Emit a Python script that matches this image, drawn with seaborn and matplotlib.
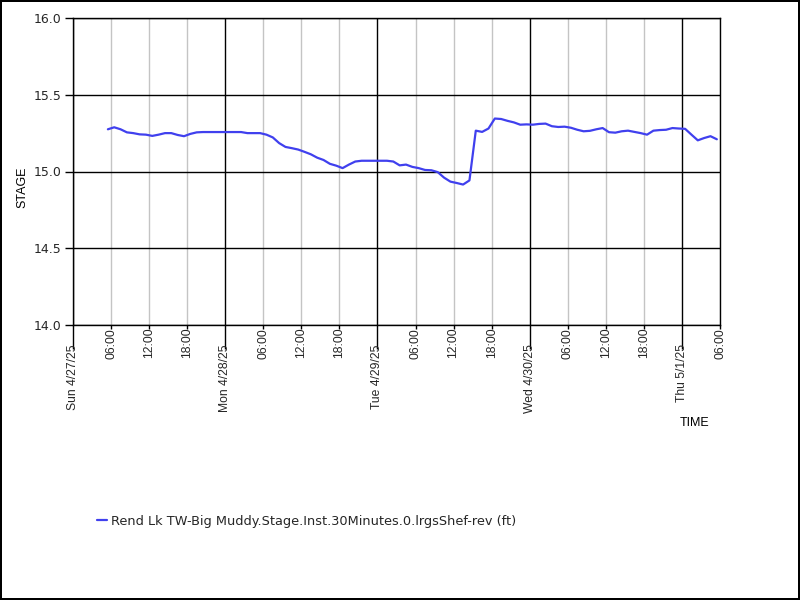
import matplotlib
matplotlib.use("Agg")
import matplotlib.pyplot as plt
import matplotlib.dates as mdates
import numpy as np
import pandas as pd
import seaborn as sns

SERIES_NAME = "Rend Lk TW-Big Muddy.Stage.Inst.30Minutes.0.lrgsShef-rev (ft)"

# hourly readings, first one Sun 4/27/25 05:30
start_time = "2025-04-27 05:30"
stage = [
    15.275, 15.288, 15.275, 15.255, 15.250, 15.242, 15.240, 15.232, 15.240, 15.250,
    15.250, 15.238, 15.230, 15.245, 15.255, 15.257, 15.257, 15.257, 15.257, 15.257,
    15.257, 15.257, 15.250, 15.250, 15.250, 15.240, 15.222, 15.185, 15.160, 15.152,
    15.143, 15.128, 15.112, 15.090, 15.075, 15.050, 15.038, 15.022, 15.045, 15.065,
    15.070, 15.070, 15.070, 15.070, 15.070, 15.065, 15.040, 15.045, 15.030, 15.022,
    15.010, 15.008, 14.996, 14.960, 14.934, 14.925, 14.915, 14.942, 15.266, 15.258,
    15.280, 15.345, 15.342, 15.330, 15.320, 15.305, 15.307, 15.305, 15.310, 15.312,
    15.295, 15.290, 15.292, 15.285, 15.272, 15.262, 15.265, 15.275, 15.283, 15.256,
    15.253, 15.262, 15.266, 15.258, 15.250, 15.240, 15.266, 15.270, 15.272, 15.283,
    15.280, 15.278, 15.240, 15.203, 15.218, 15.230, 15.210,
]

x_start = "2025-04-27 00:00"
x_end = "2025-05-01 06:00"
y_ticks = [14.0, 14.5, 15.0, 15.5, 16.0]

df = pd.DataFrame({
    "time": pd.date_range(start_time, periods=len(stage), freq="h"),
    "stage": stage,
    "series": SERIES_NAME,
})

sns.set_theme(style="white")
plt.rcParams["font.family"] = ["Liberation Sans", "DejaVu Sans"]

fig = plt.figure(figsize=(8, 6), dpi=100, edgecolor="black", linewidth=1.6)
ax = fig.add_axes([73 / 800, 1 - 325 / 600, 647 / 800, 307 / 600])

sns.lineplot(data=df, x="time", y="stage", hue="series", palette=["#4040ee"],
             linewidth=1.6, ax=ax)

ax.set_xlim(pd.Timestamp(x_start), pd.Timestamp(x_end))
ax.set_ylim(14.0, 16.0)

ax.xaxis.set_major_locator(mdates.DayLocator())
ax.xaxis.set_major_formatter(mdates.DateFormatter("%a %-m/%-d/%y"))
ax.xaxis.set_minor_locator(mdates.HourLocator(byhour=[6, 12, 18]))
ax.xaxis.set_minor_formatter(mdates.DateFormatter("%H:%M"))
ax.set_yticks(y_ticks)
ax.yaxis.set_major_formatter(matplotlib.ticker.FormatStrFormatter("%.1f"))

ax.grid(which="major", axis="both", color="black", linewidth=1.0)
ax.grid(which="minor", axis="x", color="#c4c4c4", linewidth=1.0)
ax.set_axisbelow(True)

ax.tick_params(axis="x", which="major", direction="out", length=17, width=1,
               color="black", pad=-3, labelsize=8.7, labelrotation=90, bottom=True)
ax.tick_params(axis="x", which="minor", direction="out", length=3, width=1,
               color="black", pad=-1, labelsize=8.7, labelrotation=90, bottom=True)
ax.tick_params(axis="y", which="major", direction="out", length=6, width=1,
               color="black", pad=2, labelsize=9, left=True)
for lab in ax.get_yticklabels():
    lab.set_family("DejaVu Sans")
for lab in ax.get_xticklabels(which="both"):
    lab.set_verticalalignment("top")
    lab.set_horizontalalignment("center")

for s in ax.spines.values():
    s.set_color("black")
    s.set_linewidth(1.0)

ax.set_xlabel("")
ax.set_ylabel("")
fig.text(22 / 800, 1 - 187 / 600, "STAGE", rotation=90, ha="center", va="center",
         fontsize=9, color="black")
fig.text(695 / 800, 1 - 423 / 600, "TIME", ha="center", va="center",
         fontsize=9, color="black")

ax.legend(loc="center left", bbox_to_anchor=(97 / 800, 1 - 521 / 600),
          bbox_transform=fig.transFigure, frameon=False, borderpad=0,
          borderaxespad=0, handlelength=0.8, handletextpad=0.3,
          prop={"family": "DejaVu Sans", "size": 9.3})

fig.savefig("out.png", dpi=100)
